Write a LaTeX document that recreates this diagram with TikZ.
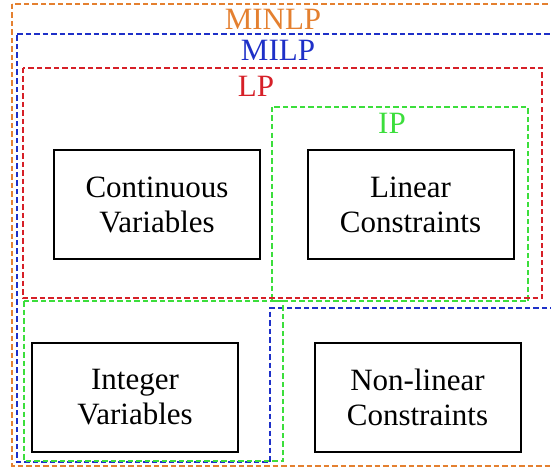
\documentclass[tikz,border=0pt]{standalone}
\usepackage{fontspec}
\setmainfont{Liberation Serif}
\definecolor{minlpc}{RGB}{228,128,48}
\definecolor{milpc}{RGB}{30,48,200}
\definecolor{lpc}{RGB}{214,32,40}
\definecolor{ipc}{RGB}{60,222,60}

\begin{document}
\begin{tikzpicture}[x=1pt,y=-1pt,line join=miter]
\tikzstyle{every node}=[font=\fontsize{31}{35}\selectfont]
\tikzstyle{region}=[dash pattern=on 5.5pt off 3pt,line width=1.7pt]
\tikzstyle{term}=[draw,line width=2pt,align=center,inner sep=0pt,minimum width=206pt,minimum height=109pt]
\useasboundingbox (0,0) rectangle (551,468);
\clip (0,0) rectangle (551,468);

% problem classes
\path[region,draw=minlpc] (12,4) rectangle (570,466);
\path[region,draw=milpc] (17,34) -- (570,34) -- (570,308) -- (270,308) -- (270,462) -- (17,462) -- cycle;
\path[region,draw=ipc] (272,107) rectangle (528,301);
\path[region,draw=ipc] (24,301) rectangle (283,461);
\path[region,draw=lpc] (23,68) rectangle (542,298);

\path node[anchor=base,text=minlpc] (minlp) at (273,30) {MINLP};
\path node[anchor=base,text=milpc] (milp) at (278,61) {MILP};
\path node[anchor=base,text=lpc] (lp) at (256,97) {LP};
\path node[anchor=base,text=ipc] (ip) at (392,133) {IP};

% building blocks
\path node[term] (cv) at (157,204.5) {Continuous\\Variables};
\path node[term] (lc) at (410.5,204.5) {Linear\\Constraints};
\path node[term] (iv) at (135,397) {Integer\\Variables};
\path node[term] (nc) at (417.5,397) {Non-linear\\Constraints};
\end{tikzpicture}
\end{document}
